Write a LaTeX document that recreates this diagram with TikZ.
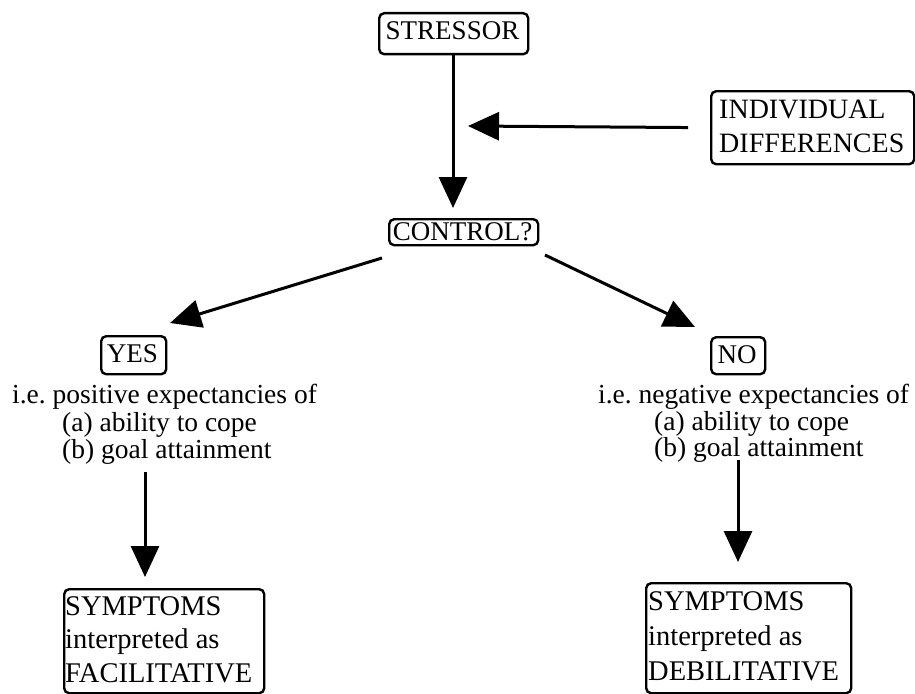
\documentclass[tikz,border=0pt]{standalone}
\usepackage{fontspec}
\setmainfont{Liberation Serif}
\usetikzlibrary{arrows.meta}
\frenchspacing
\begin{document}
\begin{tikzpicture}[x=1pt,y=-1pt,
  box/.style={draw, line width=2.4pt, rounded corners=5pt, inner sep=0pt, anchor=north west},
  captext/.style={font=\fontsize{27}{30}\selectfont, inner sep=0pt},
  txt/.style={font=\fontsize{27.5}{30}\selectfont, inner sep=0pt, anchor=base west},
  conn/.style={line width=3pt, -{Triangle[length=31pt, width=28pt]}}
]
\useasboundingbox (0,0) rectangle (915,693);

% single-line boxes
\node[box, minimum width=149pt, minimum height=41pt] (stressor) at (378,12) {};
\node[captext] (stressorT) at (452.5,31) {STRESSOR};

\node[box, minimum width=149pt, minimum height=26pt] (control) at (388,218) {};
\node[captext] (controlT) at (462.5,231.5) {CONTROL?};

\node[box, minimum width=65pt, minimum height=38pt] (yes) at (100,335) {};
\node[captext] (yesT) at (132.5,354) {YES};

\node[box, minimum width=54pt, minimum height=37pt] (no) at (710,336) {};
\node[captext] (noT) at (737,354.5) {NO};

% individual differences
\node[box, minimum width=203pt, minimum height=73pt] (indiv) at (710,90) {};
\node[txt, font=\fontsize{28}{30}\selectfont] (indiv1) at (719,118) {INDIVIDUAL};
\node[txt, font=\fontsize{28}{30}\selectfont] (indiv2) at (719,152) {DIFFERENCES};

% left text block
\node[txt] (lt1) at (12,403) {i.e. positive expectancies of};
\node[txt] (lt2) at (62,431) {(a) ability to cope};
\node[txt] (lt3) at (62,458) {(b) goal attainment};

% right text block
\node[txt] (rt1) at (598,403) {i.e. negative expectancies of};
\node[txt] (rt2) at (654,430) {(a) ability to cope};
\node[txt] (rt3) at (654,456) {(b) goal attainment};

% symptom boxes
\node[box, minimum width=200pt, minimum height=104pt] (lbox) at (63,588) {};
\node[txt, font=\fontsize{28.5}{30}\selectfont] (lb1) at (65,615) {SYMPTOMS};
\node[txt, font=\fontsize{28.5}{30}\selectfont] (lb2) at (65,648) {interpreted as};
\node[txt, font=\fontsize{28.5}{30}\selectfont] (lb3) at (65,682) {FACILITATIVE};

\node[box, minimum width=205pt, minimum height=110pt] (rbox) at (645,582) {};
\node[txt, font=\fontsize{28.5}{30}\selectfont] (rb1) at (648,610) {SYMPTOMS};
\node[txt, font=\fontsize{28.5}{30}\selectfont] (rb2) at (648,645) {interpreted as};
\node[txt, font=\fontsize{28.5}{30}\selectfont] (rb3) at (648,680) {DEBILITATIVE};

% coordinates for free ends
\coordinate (itip) at (468,126);
\coordinate (cl) at (382,258);
\coordinate (yl) at (170,323);
\coordinate (cr) at (545,255);
\coordinate (nr) at (695,327);
\coordinate (ls) at (145,472);
\coordinate (rs) at (738,460);

% connectors
\draw[conn, shorten >=10pt] (stressor.south -| 453,0) -- (control.north -| 453,0);
\draw[conn, shorten <=22pt] (indiv.west) -- (itip);
\draw[conn] (cl) -- (yl);
\draw[conn] (cr) -- (nr);
\draw[conn, shorten >=11pt] (ls) -- (ls |- lbox.north);
\draw[conn, shorten >=20pt] (rs) -- (rs |- rbox.north);
\end{tikzpicture}
\end{document}
